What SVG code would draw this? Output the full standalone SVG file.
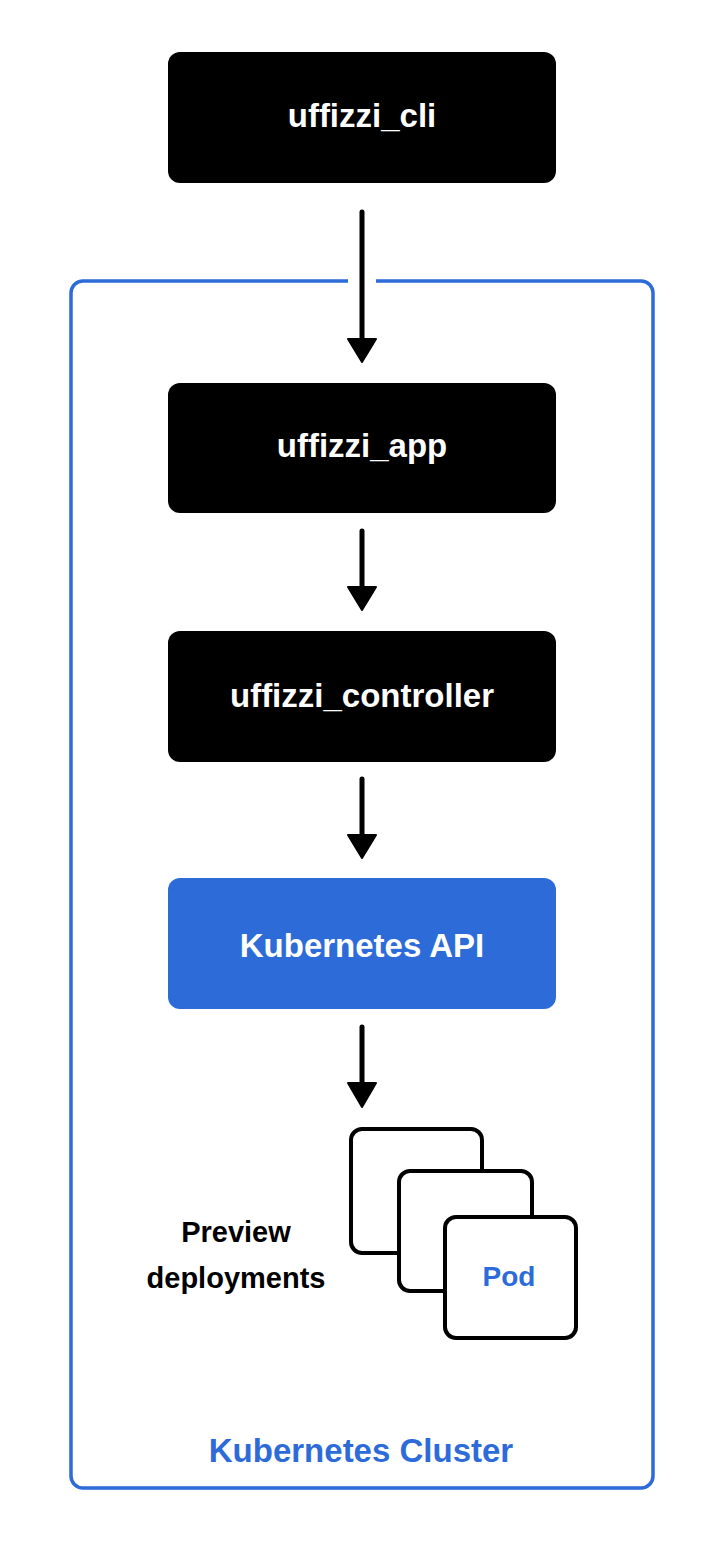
<svg xmlns="http://www.w3.org/2000/svg" width="724" height="1547" viewBox="0 0 724 1547">
<defs>
<style>
.box{fill:#000;}
.api{fill:#2D6BD9;}
.lbl{font-family:"Liberation Sans",Arial,sans-serif;font-weight:bold;font-size:33px;text-anchor:middle;fill:#fff;}
.blue{fill:#2D6BD9;}
.dark{fill:#000;}
.sm{font-size:29px;}
.pd{font-size:28px;}
.pod{fill:#fff;stroke:#000;stroke-width:4;}
.ln{stroke:#000;stroke-width:5;stroke-linecap:round;fill:none;}
.hd{fill:#000;stroke:#000;stroke-width:2;stroke-linejoin:round;}
</style>
</defs>
<rect width="724" height="1547" fill="#fff"/>
<g id="cluster">
<path d="M348 281 H83 A12 12 0 0 0 71 293 V1476 A12 12 0 0 0 83 1488 H641 A12 12 0 0 0 653 1476 V293 A12 12 0 0 0 641 281 H376" fill="none" stroke="#2D6BD9" stroke-width="3.5"/>
<text class="lbl blue" x="361" y="1462">Kubernetes Cluster</text>
</g>
<g id="connectors">
<line class="ln" x1="362" y1="212" x2="362" y2="341"/>
<polygon class="hd" points="348,339 376,339 362,362"/>
<line class="ln" x1="362" y1="531" x2="362" y2="589"/>
<polygon class="hd" points="348,587 376,587 362,610"/>
<line class="ln" x1="362" y1="779" x2="362" y2="837"/>
<polygon class="hd" points="348,835 376,835 362,858"/>
<line class="ln" x1="362" y1="1027" x2="362" y2="1085"/>
<polygon class="hd" points="348,1083 376,1083 362,1107"/>
</g>
<g id="uffizzi_cli">
<rect class="box" x="168" y="52" width="388" height="131" rx="12"/>
<text class="lbl" x="362" y="127">uffizzi_cli</text>
</g>
<g id="uffizzi_app">
<rect class="box" x="168" y="383" width="388" height="130" rx="12"/>
<text class="lbl" x="362" y="457">uffizzi_app</text>
</g>
<g id="uffizzi_controller">
<rect class="box" x="168" y="631" width="388" height="131" rx="12"/>
<text class="lbl" x="362" y="707">uffizzi_controller</text>
</g>
<g id="kubernetes_api">
<rect class="api" x="168" y="878" width="388" height="131" rx="12"/>
<text class="lbl" x="362" y="957">Kubernetes API</text>
</g>
<g id="preview_deployments">
<text class="lbl dark sm" x="236" y="1242">Preview</text>
<text class="lbl dark sm" x="236" y="1288">deployments</text>
</g>
<g id="pods">
<rect class="pod" x="351" y="1129" width="131" height="124" rx="11"/>
<rect class="pod" x="399" y="1171" width="133" height="120" rx="11"/>
<rect class="pod" x="445" y="1217" width="131" height="121" rx="11"/>
<text class="lbl blue pd" x="509" y="1286">Pod</text>
</g>
</svg>
